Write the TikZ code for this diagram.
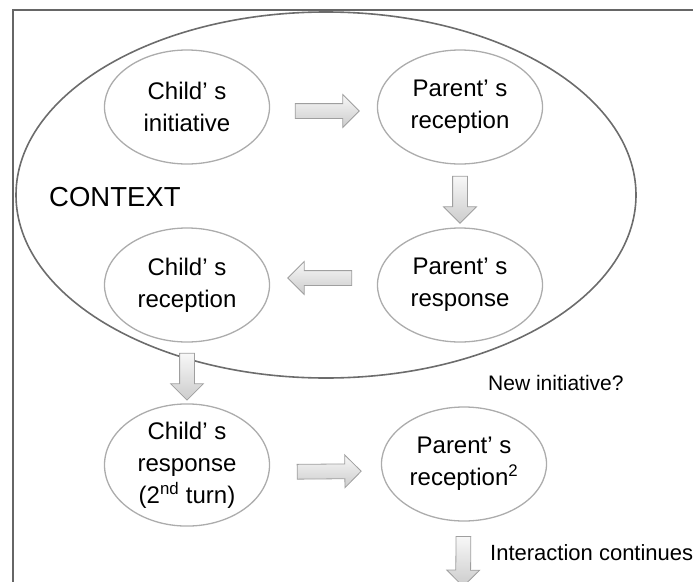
\documentclass[tikz,border=0pt]{standalone}
\usepackage{fontspec}
\setmainfont{Liberation Sans}
\usetikzlibrary{shapes.geometric,shapes.arrows}
\tikzset{%
    stage/.style={ellipse,draw=gray!65,line width=1.3pt,minimum width=165pt,minimum height=114pt,
        inner sep=0pt,align=center,font=\fontsize{24}{32}\selectfont}
}
\begin{document}
\begin{tikzpicture}[
                x=1pt, y=-1pt,
                blk/.style={single arrow, draw=gray!75, line width=0.8pt, top color=gray!6, bottom color=gray!40,
                    inner xsep=0pt, inner ysep=7pt, single arrow head extend=9pt,
                    sloped, allow upside down, minimum height=64pt}
            ]
            \useasboundingbox (0,0) rectangle (693,581);
            \draw[line width=2.2pt,gray!80!black] (13,600) -- (13,10) -- (700,10);

            \node[ellipse,draw=gray!85!black,line width=1.6pt,minimum width=620pt,minimum height=366pt] (ctx) at (326,195){};
            \node[font=\fontsize{27.5}{30}\selectfont,anchor=west,inner sep=0pt] (ctxlbl) at (49,197){CONTEXT};

            \node[stage] (ci) at (187,107){Child’ s\\initiative};
            \node[stage] (pr) at (460,107){Parent’ s\\reception};
            \node[stage] (prs) at (460,285){Parent’ s\\response};
            \node[stage] (cr) at (187,285){Child’ s\\reception};
            \node[stage] (cres) at (187,465){Child’ s\\response\\(2\textsuperscript{nd} turn)};
            \node[stage] (pr2) at (464,464){Parent’ s\\reception\textsuperscript{2}};
            \coordinate (more) at (463,594);

            \node[font=\fontsize{21}{24}\selectfont,anchor=west,inner sep=0pt] (newini) at (488,383){New initiative?};
            \node[font=\fontsize{22}{24}\selectfont,anchor=west,inner sep=0pt] (cont) at (490,553){Interaction continues};

            \path ([yshift=-4pt]ci.east) -- node[blk]{} ([yshift=-4pt]pr.west);
            \path (pr) -- node[blk,minimum height=47pt]{} (prs);
            \path ([yshift=7pt]prs.west) -- node[blk]{} ([yshift=7pt]cr.east);
            \path (cr) -- node[blk,minimum height=47pt]{} (cres);
            \path ([yshift=-7pt]cres.east) -- node[blk]{} ([yshift=-7pt]pr2.west);
            \path (pr2) -- node[blk,minimum height=50pt]{} (more);
        \end{tikzpicture}
\end{document}
